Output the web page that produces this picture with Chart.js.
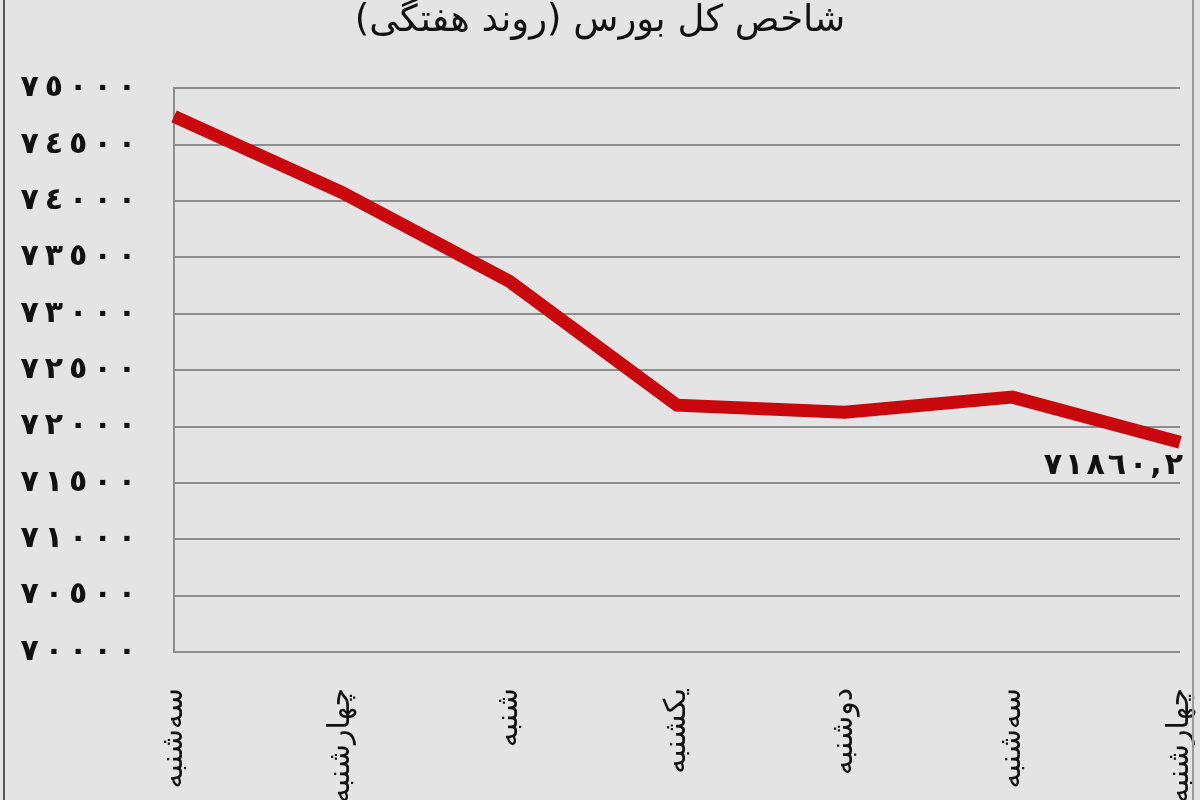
<!DOCTYPE html>
<html lang="fa">
<head>
<meta charset="utf-8">
<script src="https://cdn.jsdelivr.net/npm/chart.js@4.4.1/dist/chart.umd.min.js"></script>
<style>
    html, body { margin: 0; padding: 0; }
    body { width: 1200px; height: 800px; overflow: hidden; background: #e4e4e4; position: relative; }
    #wrap { position: absolute; left: 0; top: -12px; width: 1200px; height: 812px; }
    #frameL { position: absolute; left: 3px; top: 0; width: 2px; height: 800px; background: #555; }
    #frameR { position: absolute; left: 1192px; top: 0; width: 2px; height: 800px; background: #999; }
</style>
</head>
<body>
<div id="wrap"><canvas id="chart" dir="rtl" width="1200" height="812"></canvas></div>
<div id="frameL"></div>
<div id="frameR"></div>
<script>
const TITLE = "شاخص کل بورس (روند هفتگی)";
const DAYS = ["سه\u200cشنبه", "چهارشنبه", "شنبه", "یکشنبه", "دوشنبه", "سه\u200cشنبه", "چهارشنبه"];
const INDEX = [74752, 74078, 73290, 72190, 72128, 72261, 71860.2];
const Y_MIN = 70000;
const Y_MAX = 75000;
const Y_STEP = 500;
const LAST_LABEL = "71860,2";

const FONT = "'DejaVu Sans', 'Noto Sans', sans-serif";

// western digits -> arabic-indic digits, spread apart like in the picture.
// the LRM marks keep the digits in order around the spaces
function toArabicDigits(v, gap) {
    return String(v)
        .replace(/[0-9]/g, d => String.fromCharCode(0x0660 + Number(d)))
        .split('')
        .join('\u200E' + gap + '\u200E');
}

// value label under the last point
const lastLabel = {
    id: 'lastLabel',
    afterDatasetsDraw(chart) {
        const {ctx, scales} = chart;
        const i = INDEX.length - 1;
        const x = scales.x.getPixelForValue(i);
        const y = scales.y.getPixelForValue(INDEX[i]);
        ctx.save();
        ctx.font = `bold 30px ${FONT}`;
        ctx.fillStyle = '#111';
        ctx.textAlign = 'right';
        ctx.textBaseline = 'middle';
        ctx.fillText(toArabicDigits(LAST_LABEL, '\u200A'), x + 3, y + 24);
        ctx.restore();
    }
};

Chart.defaults.font.family = FONT;
Chart.defaults.color = '#111';

new Chart(document.getElementById('chart'), {
    type: 'line',
    data: {
        labels: DAYS,
        datasets: [{
            data: INDEX,
            borderColor: '#c8080c',
            borderWidth: 13,
            borderJoinStyle: 'miter',
            borderCapStyle: 'butt',
            tension: 0,
            pointRadius: 0,
            fill: false,
        }]
    },
    options: {
        responsive: false,
        animation: false,
        layout: { padding: 0 },
        plugins: {
            legend: { display: false },
            tooltip: { enabled: false },
            title: {
                display: true,
                text: TITLE,
                color: '#111',
                font: { size: 37, weight: 'normal', lineHeight: 1.2 },
                padding: { top: 11, bottom: 45 },
            },
        },
        scales: {
            x: {
                grid: { display: false, drawTicks: false },
                border: { display: false },
                ticks: {
                    minRotation: 90,
                    maxRotation: 90,
                    autoSkip: false,
                    padding: 36,
                    font: { size: 30 },
                    color: '#111',
                },
                afterFit(scale) {
                    scale.height = 148;
                    scale.paddingLeft = 0;
                    scale.paddingRight = 20;
                },
            },
            y: {
                min: Y_MIN,
                max: Y_MAX,
                grid: { color: '#8d8d8d', lineWidth: 2, drawTicks: false },
                border: { display: true, color: '#8d8d8d', width: 2 },
                ticks: {
                    stepSize: Y_STEP,
                    padding: 38,
                    font: { size: 30, weight: 'bold' },
                    color: '#111',
                    callback: v => toArabicDigits(v, '\u2009'),
                },
                afterFit(scale) {
                    scale.width = 174;
                    scale.paddingTop = 0;
                    scale.paddingBottom = 0;
                },
            },
        },
    },
    plugins: [lastLabel],
});
</script>
</body>
</html>
